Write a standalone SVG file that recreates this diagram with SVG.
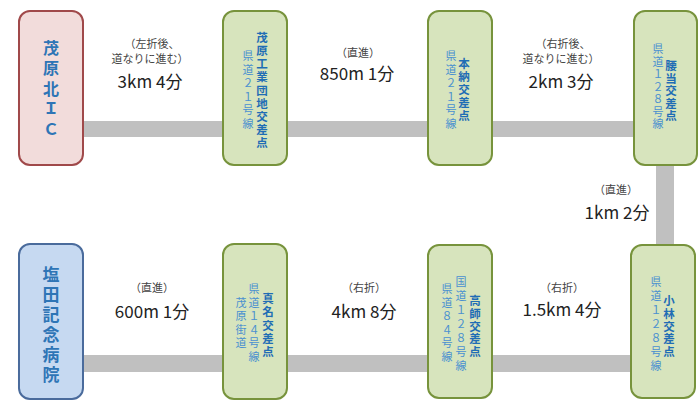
<svg xmlns="http://www.w3.org/2000/svg" width="699" height="405" viewBox="0 0 699 405">
<style>
.road{fill:#c0c0c0}
.ng{fill:#d7e4bd;stroke:#77933c;stroke-width:2}
.np{fill:#f2dcdb;stroke:#a0494a;stroke-width:2}
.nb{fill:#c6d9f1;stroke:#4a6b9c;stroke-width:2}
text{font-family:"Noto Sans CJK JP","Noto Sans",sans-serif}
.t{font-size:11.5px;font-weight:bold;fill:#1f6db5;text-anchor:middle;dominant-baseline:central}
.s{font-size:11px;fill:#4a90d0;text-anchor:middle;dominant-baseline:central}
.big{font-size:16px;font-weight:bold;fill:#2e75b6;text-anchor:middle;dominant-baseline:central}
.lab{font-size:11px;fill:#444;text-anchor:middle}
.dist{font-size:17px;fill:#222;text-anchor:middle}
</style>
<g id="connectors">
<rect class="road" x="83" y="121" width="551" height="16"/>
<rect class="road" x="656" y="165" width="18" height="80"/>
<rect class="road" x="83" y="355" width="548" height="17"/>
</g>
<g id="labels">
<text class="lab" x="152" y="48">（左折後、</text>
<text class="lab" x="150" y="63">道なりに進む）</text>
<text class="dist" x="150" y="88">3km 4分</text>
<text class="lab" x="358" y="57">（直進）</text>
<text class="dist" x="357" y="80">850m 1分</text>
<text class="lab" x="563" y="48">（右折後、</text>
<text class="lab" x="561" y="63">道なりに進む）</text>
<text class="dist" x="561" y="88">2km 3分</text>
<text class="lab" x="616" y="194">（直進）</text>
<text class="dist" x="617" y="219">1km 2分</text>
<text class="lab" x="152" y="292">（直進）</text>
<text class="dist" x="152" y="318">600m 1分</text>
<text class="lab" x="364" y="292">（右折）</text>
<text class="dist" x="364" y="318">4km 8分</text>
<text class="lab" x="562" y="292">（右折）</text>
<text class="dist" x="562" y="316">1.5km 4分</text>
</g>
<g id="n1">
<rect class="np" x="19" y="11" width="64" height="154" rx="11"/>
<text class="big" x="51 51 51 51 51" y="47 67 88 107 128">茂原北ＩＣ</text>
</g>
<g id="n2">
<rect class="ng" x="223" y="11" width="64" height="154" rx="11"/>
<text class="t" x="262 262 262 262 262 262 262 262 262" y="37 50 63 76 89.5 102.5 115.5 129 142">茂原工業団地交差点</text>
<text class="s" x="248 248 248 248 248 248" y="55 68.6 82.2 95.8 109.4 123">県道２１号線</text>
</g>
<g id="n3">
<rect class="ng" x="428" y="11" width="64" height="154" rx="11"/>
<text class="t" x="464 464 464 464 464" y="63 76 89 102 115">本納交差点</text>
<text class="s" x="451 451 451 451 451 451" y="55 68.6 82.2 95.8 109.4 123">県道２１号線</text>
</g>
<g id="n4">
<rect class="ng" x="634" y="11" width="63" height="154" rx="11"/>
<text class="t" x="671 671 671 671 671" y="65 77.5 90 102.5 115">腰当交差点</text>
<text class="s" x="658 658 658 658 658 658 658" y="48 60.5 73 85.5 98 110.5 123">県道１２８号線</text>
</g>
<g id="n5">
<rect class="nb" x="19" y="244" width="64" height="155" rx="11"/>
<text class="big" style="font-size:17px" x="51 51 51 51 51 51" y="273 293 313 333 353 373">塩田記念病院</text>
</g>
<g id="n6">
<rect class="ng" x="223" y="244" width="64" height="155" rx="11"/>
<text class="t" x="268 268 268 268 268" y="298 311 324.5 338 351">真名交差点</text>
<text class="s" x="254 254 254 254 254 254" y="288 301.6 315.2 328.8 342.4 356">県道１４号線</text>
<text class="s" x="241 241 241 241" y="301.6 315.2 328.8 342.4">茂原街道</text>
</g>
<g id="n7">
<rect class="ng" x="428" y="245" width="64" height="153" rx="11"/>
<text class="t" x="475 475 475 475 475" y="300 312.75 325.5 338.25 351">高師交差点</text>
<text class="s" x="461 461 461 461 461 461 461" y="281 295 309 323 337 351 365">国道１２８号線</text>
<text class="s" x="447 447 447 447 447 447" y="288 301.6 315.2 328.8 342.4 356">県道８４号線</text>
</g>
<g id="n8">
<rect class="ng" x="631" y="245" width="64" height="153" rx="11"/>
<text class="t" x="669 669 669 669 669" y="300 312.75 325.5 338.25 351">小林交差点</text>
<text class="s" x="656 656 656 656 656 656 656" y="281 295 309 323 337 351 365">県道１２８号線</text>
</g>
</svg>
